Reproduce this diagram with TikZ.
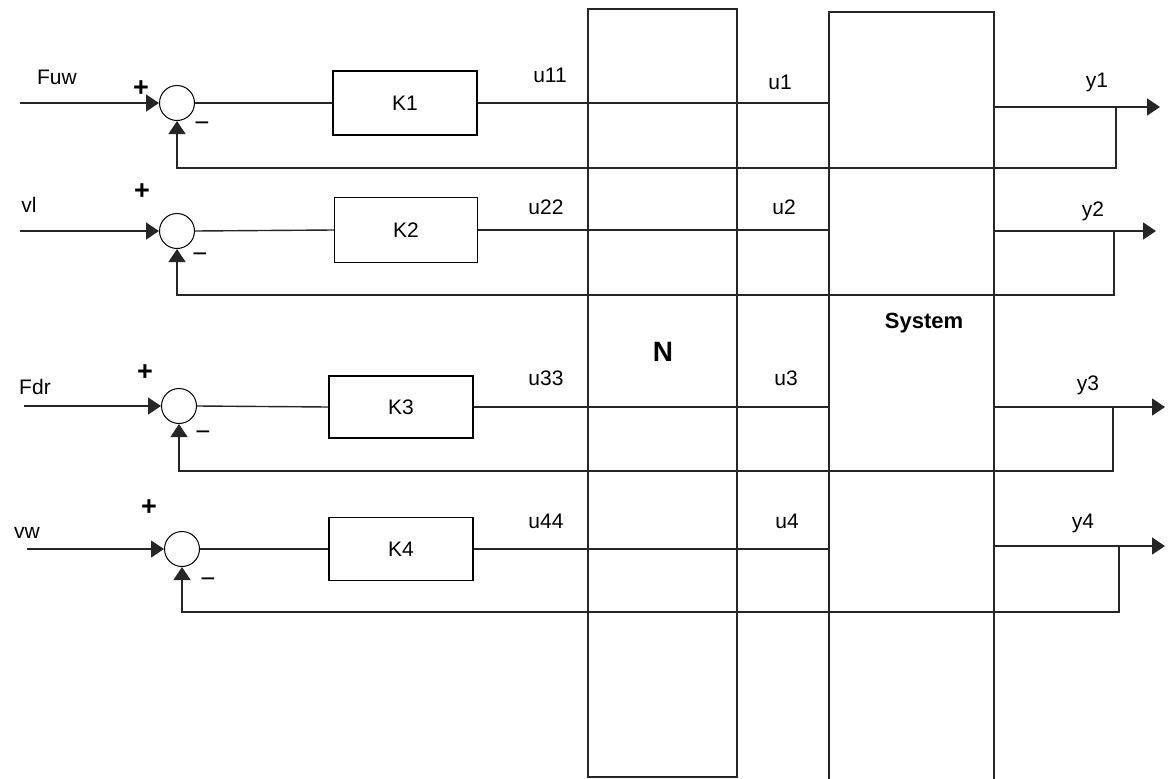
\documentclass[tikz,border=0pt]{standalone}
\usepackage{fontspec}
\setmainfont{Liberation Sans}
\usetikzlibrary{arrows.meta}
\begin{document}
\begin{tikzpicture}[x=1pt,y=-1pt,
 wire/.style={line width=1.4pt, draw=black!85},
 sumj/.style={circle, draw, line width=1pt, minimum size=35pt, inner sep=0pt},
 kbox/.style={draw, line width=1.4pt, minimum width=144pt, minimum height=64pt, font=\fontsize{21}{24}\selectfont},
 lbl/.style={font=\fontsize{21}{24}\selectfont, inner sep=0pt},
 plus/.style={font=\fontsize{27}{27}\selectfont\bfseries, inner sep=0pt},
 minus/.style={font=\fontsize{26}{26}\selectfont, inner sep=0pt},
 arr/.style={-{Triangle[length=13pt,width=17pt]}},
 bigbox/.style={line width=1.5pt, draw=black!85},
]
\useasboundingbox (0,0) rectangle (1168,779);
% big blocks
\node[bigbox, draw, minimum width=149pt, minimum height=768pt, inner sep=0pt] (N) at (662.5,393) {};
\node[font=\fontsize{28}{28}\selectfont\bfseries, inner sep=0pt] (Nl) at (663,352) {N};
\node[minimum width=165pt, minimum height=767pt, inner sep=0pt] (sys) at (911.5,395.5) {};
\draw[bigbox] (sys.south west) -- (sys.north west) -- (sys.north east) -- (sys.south east);
\node[font=\fontsize{22}{24}\selectfont\bfseries, inner sep=0pt] (sysl) at (924,323) {System};

% row 1
\node[lbl] (in1) at (57,77) {Fuw};
\coordinate (s1) at (20,103);
\node[sumj] (c1) at (177,103) {};
\node[plus] (p1) at (141,89) {+};
\node[minus] (m1) at (202,127) {−};
\node[kbox] (k1) at (405,103) {K1};
\node[lbl] (u11) at (550,75) {u11};
\node[lbl] (u1) at (780,82) {u1};
\node[lbl] (y1) at (1097,82) {y1};
\coordinate (t1) at (1160,107);
\coordinate (b1) at (1116,107);
\draw[wire,arr] (s1) -- (c1.west);
\draw[wire] (c1.east) -- (k1.west);
\draw[wire] (k1.east) -- (k1.east -| sys.west);
\draw[wire,arr] (sys.east |- t1) -- (t1);
\draw[wire,arr] (b1) -- (1116,168) -| (c1.south);

% row 2
\node[lbl] (in2) at (29,205) {vl};
\coordinate (s2) at (20,231);
\node[sumj] (c2) at (177,231) {};
\node[plus] (p2) at (142,192) {+};
\node[minus] (m2) at (200,258) {−};
\node[kbox, minimum width=143pt, minimum height=65pt] (k2) at (406,230) {K2};
\node[lbl] (u22) at (546,207) {u22};
\node[lbl] (u2) at (784,207) {u2};
\node[lbl] (y2) at (1093,211) {y2};
\coordinate (t2) at (1156,231);
\coordinate (b2) at (1114,231);
\draw[wire,arr] (s2) -- (c2.west);
\draw[wire] (c2.east) -- (k2.west);
\draw[wire] (k2.east) -- (k2.east -| sys.west);
\draw[wire,arr] (sys.east |- t2) -- (t2);
\draw[wire,arr] (b2) -- (1114,295) -| (c2.south);

% row 3
\node[lbl] (in3) at (35,387) {Fdr};
\coordinate (s3) at (24,406);
\node[sumj] (c3) at (179,406) {};
\node[plus] (p3) at (145,373) {+};
\node[minus] (m3) at (203,436) {−};
\node[kbox, minimum height=62pt] (k3) at (401,407) {K3};
\node[lbl] (u33) at (546,378) {u33};
\node[lbl] (u3) at (786,378) {u3};
\node[lbl] (y3) at (1088,385) {y3};
\coordinate (t3) at (1165,407);
\coordinate (b3) at (1113,407);
\draw[wire,arr] (s3) -- (c3.west);
\draw[wire] (c3.east) -- (k3.west);
\draw[wire] (k3.east) -- (k3.east -| sys.west);
\draw[wire,arr] (sys.east |- t3) -- (t3);
\draw[wire,arr] (b3) -- (1113,471) -| (c3.south);

% row 4
\node[lbl] (in4) at (27,533) {vw};
\coordinate (s4) at (27,549);
\node[sumj] (c4) at (182,549) {};
\node[plus] (p4) at (149,508) {+};
\node[minus] (m4) at (208,583) {−};
\node[kbox, minimum height=63pt] (k4) at (401,549) {K4};
\node[lbl] (u44) at (546,521) {u44};
\node[lbl] (u4) at (787,521) {u4};
\node[lbl] (y4) at (1083,523) {y4};
\coordinate (t4) at (1165,546);
\coordinate (b4) at (1119,546);
\draw[wire,arr] (s4) -- (c4.west);
\draw[wire] (c4.east) -- (k4.west);
\draw[wire] (k4.east) -- (k4.east -| sys.west);
\draw[wire,arr] (sys.east |- t4) -- (t4);
\draw[wire,arr] (b4) -- (1119,612) -| (c4.south);
\end{tikzpicture}
\end{document}
